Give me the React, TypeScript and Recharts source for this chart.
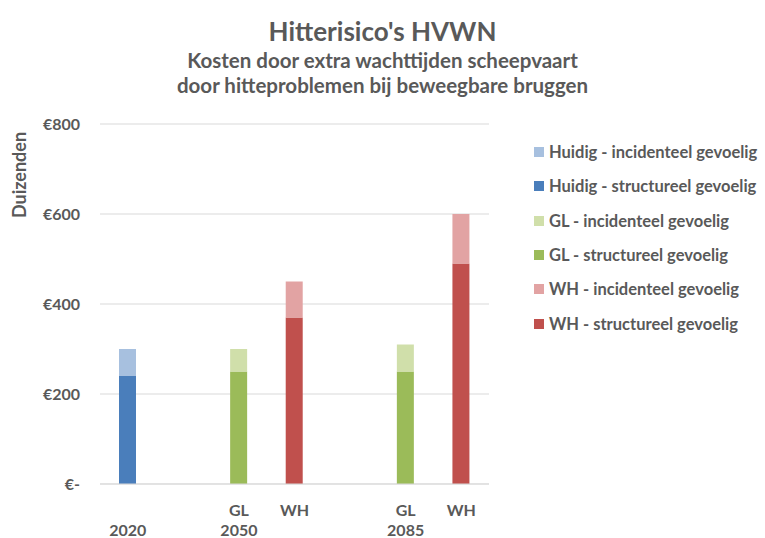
import { BarChart, Bar, XAxis, YAxis, CartesianGrid } from 'recharts'

// category slots (empty slots create the gaps between years)
const subLabels = ['', '', 'GL', 'WH', '', 'GL', 'WH']
const yearLabels = ['2020', '', '2050', '', '', '2085', '']

// values in thousands of euros
const huidigStructureel = [240, null, null, null, null, null, null]
const huidigIncidenteel = [60, null, null, null, null, null, null]
const glStructureel = [null, null, 250, null, null, 250, null]
const glIncidenteel = [null, null, 50, null, null, 60, null]
const whStructureel = [null, null, null, 370, null, null, 490]
const whIncidenteel = [null, null, null, 80, null, null, 110]

const yTicks = [0, 200, 400, 600, 800]

const series = [
  { key: 'huidigStr', name: 'Huidig - structureel gevoelig', color: '#4a7ebb', values: huidigStructureel },
  { key: 'huidigInc', name: 'Huidig - incidenteel gevoelig', color: '#a7c0df', values: huidigIncidenteel },
  { key: 'glStr', name: 'GL - structureel gevoelig', color: '#9bbb59', values: glStructureel },
  { key: 'glInc', name: 'GL - incidenteel gevoelig', color: '#d0dfaa', values: glIncidenteel },
  { key: 'whStr', name: 'WH - structureel gevoelig', color: '#c0504d', values: whStructureel },
  { key: 'whInc', name: 'WH - incidenteel gevoelig', color: '#e2a3a3', values: whIncidenteel },
]

// legend order as in the original (incidenteel above structureel)
const legendOrder = ['huidigInc', 'huidigStr', 'glInc', 'glStr', 'whInc', 'whStr']

const textColor = '#595959'
const font = 'Lato, "Open Sans", sans-serif'

const data = subLabels.map((_, i) => {
  const row: any = { slot: `s${i}` }
  series.forEach(s => { row[s.key] = s.values[i] })
  return row
})

const CategoryTick = ({ x, index }: any) => (
  <g>
    <text x={x} y={516} textAnchor="middle" fill={textColor} fontSize={16} fontWeight={700} fontFamily={font}>
      {subLabels[index]}
    </text>
    <text x={x} y={536} textAnchor="middle" fill={textColor} fontSize={16} fontWeight={700} fontFamily={font}>
      {yearLabels[index]}
    </text>
  </g>
)

export default function App() {
  return (
    <div style={{ position: 'absolute', left: 0, top: 0, width: 765, height: 538, background: '#fff', fontFamily: font, overflow: 'hidden' }}>
      <div style={{ position: 'absolute', left: 0, top: 15, width: 765, textAlign: 'center', color: textColor, fontWeight: 700 }}>
        <div style={{ fontSize: 26, lineHeight: '32px' }}>Hitterisico's HVWN</div>
        <div style={{ fontSize: 20.5, lineHeight: '25px', marginTop: 1 }}>Kosten door extra wachttijden scheepvaart</div>
        <div style={{ fontSize: 20.5, lineHeight: '25px' }}>door hitteproblemen bij beweegbare bruggen</div>
      </div>
      <div style={{ position: 'absolute', left: 0, top: 0 }}>
        <BarChart width={765} height={538} data={data} margin={{ top: 124, right: 276, bottom: 4, left: 30 }} barSize={17}>
          <CartesianGrid vertical={false} stroke="#d9d9d9" />
          <XAxis dataKey="slot" tickLine={false} axisLine={{ stroke: '#d9d9d9' }} height={50} tick={<CategoryTick />} interval={0} />
          <YAxis
            domain={[0, 800]}
            ticks={yTicks}
            width={70}
            tickLine={false}
            axisLine={false}
            tickMargin={14}
            tick={{ fill: textColor, fontSize: 16, fontWeight: 700, fontFamily: font }}
            tickFormatter={(v: number) => (v === 0 ? '€-' : `€${v}`)}
          />
          {series.map(s => (
            <Bar key={s.key} dataKey={s.key} name={s.name} stackId="a" fill={s.color} isAnimationActive={false} />
          ))}
          <text x={21} y={175} transform="rotate(-90 21 175)" textAnchor="middle" dominantBaseline="middle" fill={textColor} fontSize={18} fontWeight={700} fontFamily={font}>
            Duizenden
          </text>
        </BarChart>
      </div>
      <div style={{ position: 'absolute', left: 534, top: 135, fontFamily: font }}>
        {legendOrder.map(k => {
          const s = series.find(ser => ser.key === k)!
          return (
            <div key={k} style={{ display: 'flex', alignItems: 'center', height: 34.3, color: textColor, fontSize: 16.5, fontWeight: 700, whiteSpace: 'nowrap' }}>
              <span style={{ display: 'inline-block', width: 10, height: 10, background: s.color, marginRight: 5 }} />
              {s.name}
            </div>
          )
        })}
      </div>
    </div>
  )
}
